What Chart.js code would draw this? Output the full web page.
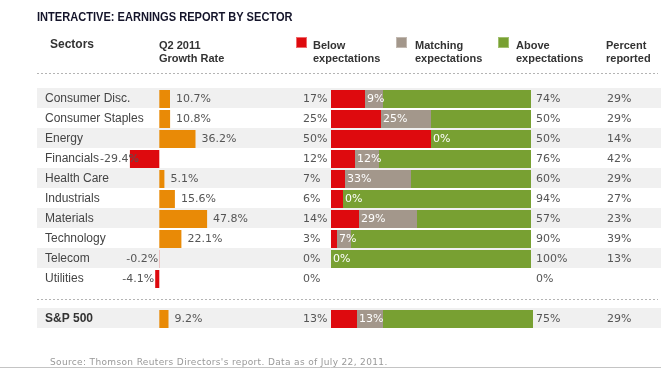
<!DOCTYPE html>
<html><head><meta charset="utf-8">
<script src="https://cdn.jsdelivr.net/npm/chart.js@4/dist/chart.umd.min.js"></script>
<style>
html,body{margin:0;padding:0;background:#fff;}
#wrap{position:relative;width:661px;height:368px;overflow:hidden;}
#c{position:absolute;left:0;top:0;}
.t{position:absolute;white-space:nowrap;font-family:"Liberation Sans",Arial,sans-serif;}
.title{left:37px;top:11px;font-size:12.5px;font-weight:bold;line-height:13px;color:#14142a;transform:scaleX(0.886);transform-origin:0 0;}
.hd{font-size:11px;font-weight:bold;line-height:13px;color:#333;top:39px;}
.sec{font-size:12px;font-weight:bold;line-height:13px;color:#333;top:38px;left:50px;}
.sw{position:absolute;width:10px;height:10px;top:37px;}
.src{left:50px;top:357px;font-family:"DejaVu Sans",sans-serif;font-size:9px;line-height:10px;letter-spacing:0.35px;color:#999;}
</style></head>
<body>
<div id="wrap">
<canvas id="c" width="661" height="368"></canvas>
<div class="t title">INTERACTIVE: EARNINGS REPORT BY SECTOR</div>
<div class="t sec">Sectors</div>
<div class="t hd" style="left:159px">Q2 2011<br>Growth Rate</div>
<div class="sw" style="left:296px;background:#de0a0e;border:1px solid #ef6a6c;width:9px;height:9px"></div>
<div class="t hd" style="left:313px">Below<br>expectations</div>
<div class="sw" style="left:396px;background:#a3978b;border:1px solid #c2b9b1;width:9px;height:9px"></div>
<div class="t hd" style="left:415px">Matching<br>expectations</div>
<div class="sw" style="left:498px;background:#78a032;border:1px solid #a2c070;width:9px;height:9px"></div>
<div class="t hd" style="left:516px">Above<br>expectations</div>
<div class="t hd" style="left:606px">Percent<br>reported</div>
<div class="t src">Source: Thomson Reuters Directors's report. Data as of July 22, 2011.</div>
</div>
<script>
const sectors = ['Consumer Disc.','Consumer Staples','Energy','Financials','Health Care','Industrials','Materials','Technology','Telecom','Utilities','','S&P 500'];
const growthRate = [10.7,10.8,36.2,-29.4,5.1,15.6,47.8,22.1,-0.2,-4.1,null,9.2];
const belowPct = [17,25,50,12,7,6,14,3,0,0,null,13];
const matchingPct = [9,25,0,12,33,0,29,7,0,null,null,13];
const abovePct = [74,50,50,76,60,94,57,90,100,0,null,75];
const percentReported = [29,29,14,42,29,27,23,39,13,null,null,29];

const C_ORANGE='#e98a06', C_RED='#de0a0e', C_GRAY='#a3978b', C_GREEN='#78a032';
const LABEL_FONT='11px "DejaVu Sans", sans-serif';
const NAME_FONT='12px "Liberation Sans", Arial, sans-serif';

const tablePlugin = {
  id:'table',
  beforeDraw(chart){
    const {ctx} = chart; const y = chart.scales.y;
    ctx.save();
    ctx.fillStyle='#f0f0f0';
    sectors.forEach((s,i)=>{
      if(s!=='' && (i%2===0 || i===sectors.length-1)){
        const c=y.getPixelForValue(i);
        ctx.fillRect(37, c-11, 624, 20);
      }
    });
    ctx.strokeStyle='#b4b4b4'; ctx.lineWidth=1; ctx.setLineDash([2,2]);
    const gapY = Math.round(y.getPixelForValue(10))+0.5;
    [73.5, gapY].forEach(yy=>{ctx.beginPath();ctx.moveTo(37,yy);ctx.lineTo(658,yy);ctx.stroke();});
    ctx.setLineDash([]); ctx.strokeStyle='#c4c4c4';
    ctx.beginPath();ctx.moveTo(0,367.5);ctx.lineTo(661,367.5);ctx.stroke();
    ctx.restore();
  },
  afterDatasetsDraw(chart){
    const {ctx} = chart;
    const gMeta = chart.getDatasetMeta(0);
    const mMeta = chart.getDatasetMeta(2);
    const y = chart.scales.y;
    ctx.save();
    ctx.font = LABEL_FONT; ctx.textBaseline='middle';
    sectors.forEach((s,i)=>{
      if(s==='') return;
      const cy = y.getPixelForValue(i)+0.5;
      ctx.fillStyle='#555';
      ctx.textAlign='left';
      const g = growthRate[i];
      if(g!==null){
        const el = gMeta.data[i];
        const txt = g.toFixed(1)+'%';
        if(g>=0){ ctx.fillText(txt, el.x+6, cy); }
        else {
          ctx.font = NAME_FONT; const nameEnd = 45 + ctx.measureText(s).width + 1; ctx.font = LABEL_FONT;
          const w = ctx.measureText(txt).width;
          let x = Math.min(el.x, el.base) - 1 - w;
          if(x < nameEnd) x = nameEnd;
          ctx.fillText(txt, x, cy);
        }
      }
      if(belowPct[i]!==null) ctx.fillText(belowPct[i]+'%', 303, cy);
      if(abovePct[i]!==null) ctx.fillText(abovePct[i]+'%', 536, cy);
      if(percentReported[i]!==null) ctx.fillText(percentReported[i]+'%', 607, cy);
      if(matchingPct[i]!==null){
        const el = mMeta.data[i];
        ctx.fillStyle='#fff';
        ctx.fillText(matchingPct[i]+'%', Math.min(el.x, el.base)+2, cy);
      }
    });
    ctx.restore();
  }
};

const common = {grouped:false, categoryPercentage:1, barPercentage:0.9, borderWidth:0};
new Chart(document.getElementById('c'), {
  type:'bar',
  data:{
    labels: sectors,
    datasets:[
      Object.assign({label:'Q2 2011 Growth Rate', data:growthRate, xAxisID:'xg', stack:'g',
        backgroundColor:(ctx)=> (ctx.raw!==null && ctx.raw<0) ? C_RED : C_ORANGE}, common),
      Object.assign({label:'Below expectations', data:belowPct, xAxisID:'xe', stack:'e', backgroundColor:C_RED}, common),
      Object.assign({label:'Matching expectations', data:matchingPct, xAxisID:'xe', stack:'e', backgroundColor:C_GRAY}, common),
      Object.assign({label:'Above expectations', data:abovePct, xAxisID:'xe', stack:'e', backgroundColor:C_GREEN}, common)
    ]
  },
  options:{
    indexAxis:'y', responsive:false, animation:false, devicePixelRatio:1,
    layout:{padding:{left:37, right:0, top:89, bottom:39}},
    plugins:{legend:{display:false}, tooltip:{enabled:false}, title:{display:false}},
    scales:{
      y:{type:'category', offset:true, grid:{display:false}, border:{display:false},
        afterFit:(s)=>{s.width=0;},
        ticks:{mirror:true, crossAlign:'near', padding:8, autoSkip:false,
          font:(c)=> c.index===11 ? {family:'"Liberation Sans", Arial, sans-serif', size:12, weight:'bold'} : {family:'"Liberation Sans", Arial, sans-serif', size:12},
          color:(c)=> c.index===11 ? '#333' : '#444'}},
      xg:{type:'linear', display:false, min:-122.3, max:501.7, stacked:false},
      xe:{type:'linear', display:false, min:-147, max:165, stacked:true}
    }
  },
  plugins:[tablePlugin]
});
</script>
</body></html>
